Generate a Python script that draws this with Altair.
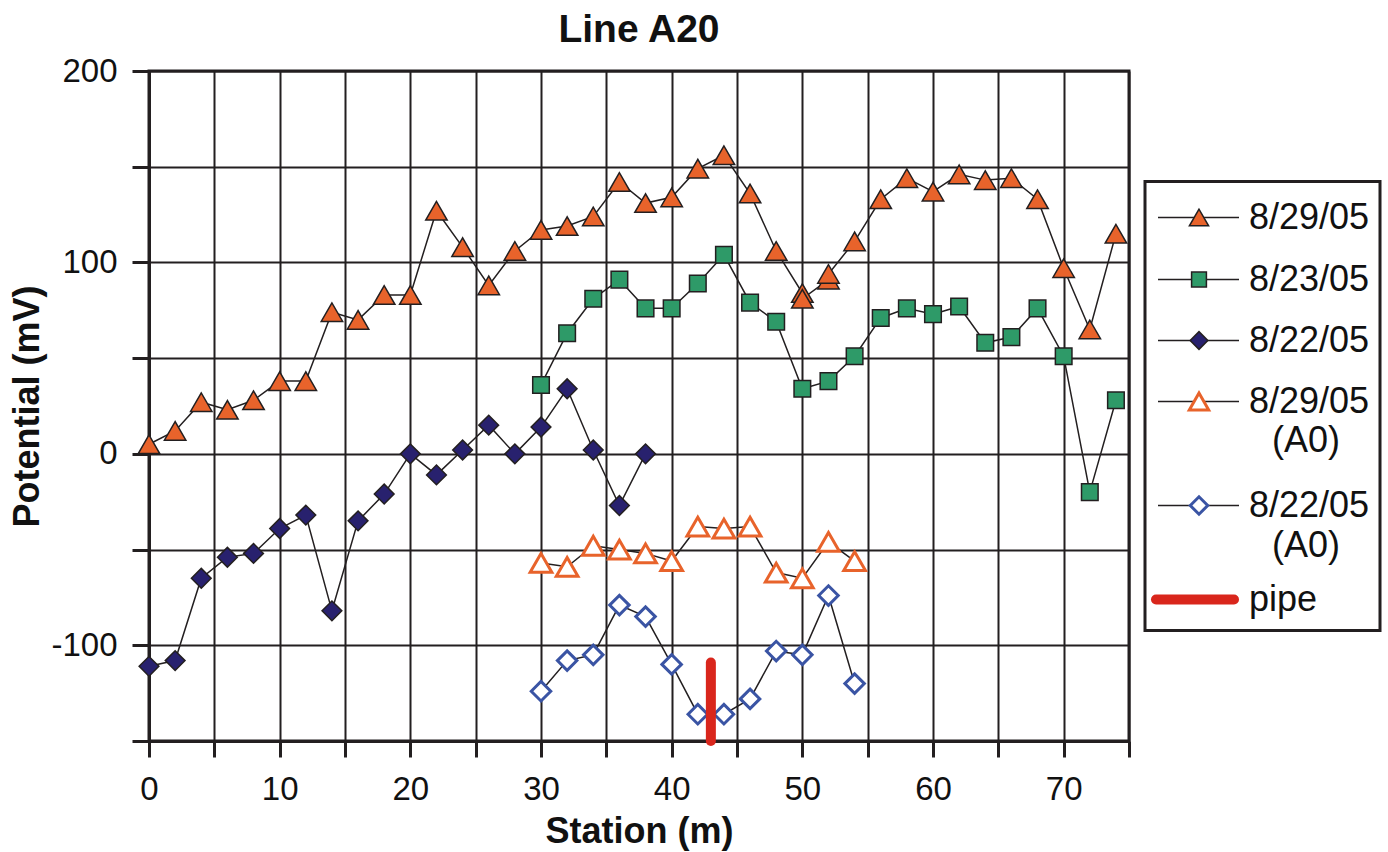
import altair as alt
import pandas as pd

# ---------------- data ----------------
st_829 = [0, 2, 4, 6, 8, 10, 12, 14, 16, 18, 20, 22, 24, 26, 28, 30, 32, 34, 36, 38,
          40, 42, 44, 46, 48, 50, 50, 52, 52, 54, 56, 58, 60, 62, 64, 66, 68, 70, 72, 74]
v_829 = [5, 12, 27, 23, 28, 38, 38, 74, 70, 83, 83, 127, 108, 88, 106, 117, 119, 124, 142, 131,
         134, 149, 156, 136, 106, 84, 81, 91, 94, 111, 133, 144, 137, 146, 143, 144, 133, 97, 65, 115]

st_823 = [30, 32, 34, 36, 38, 40, 42, 44, 46, 48, 50, 52, 54, 56, 58, 60, 62, 64, 66, 68, 70, 72, 74]
v_823 = [36, 63, 81, 91, 76, 76, 89, 104, 79, 69, 34, 38, 51, 71, 76, 73, 77, 58, 61, 76, 51, -20, 28]

st_822 = [0, 2, 4, 6, 8, 10, 12, 14, 16, 18, 20, 22, 24, 26, 28, 30, 32, 34, 36, 38]
v_822 = [-111, -108, -65, -54, -52, -39, -32, -82, -35, -21, 0, -11, 2, 15, 0, 14, 34, 2, -27, 0]

st_829a = [30, 32, 34, 36, 38, 40, 42, 44, 46, 48, 50, 52, 54]
v_829a = [-57, -59, -48, -50, -52, -56, -38, -39, -38, -62, -65, -46, -56]

st_822a = [30, 32, 34, 36, 38, 40, 42, 44, 46, 48, 50, 52, 54]
v_822a = [-124, -108, -105, -79, -85, -110, -136, -136, -128, -103, -105, -74, -120]

pipe_station = [43]
pipe_top = [-109]
pipe_bottom = [-150]

series_names = ["8/29/05", "8/23/05", "8/22/05", "8/29/05 (A0)", "8/22/05 (A0)"]
legend_main = ["8/29/05", "8/23/05", "8/22/05", "8/29/05", "8/22/05"]
legend_sub = ["", "", "", "(A0)", "(A0)"]
pipe_label = ["pipe"]

# ---------------- styles ----------------
DARK = "#231f20"
ORANGE = "#e8632b"
GREEN = "#2e9a68"
NAVY = "#28216e"
BLUE = "#3a54a4"
RED = "#d9261c"
TXT = "#111111"
FONT = "Liberation Sans"

marker_styles = [
    dict(shape="triangle-up", fill=ORANGE, stroke=DARK, strokeWidth=1.5, size=460),
    dict(shape="square", fill=GREEN, stroke=DARK, strokeWidth=1.5, size=275),
    dict(shape="diamond", fill=NAVY, stroke=DARK, strokeWidth=1.5, size=390),
    dict(shape="triangle-up", fill="white", stroke=ORANGE, strokeWidth=3, size=470),
    dict(shape="diamond", fill="white", stroke=BLUE, strokeWidth=3, size=380),
]

rows = []
for name, st, vals in zip(series_names, [st_829, st_823, st_822, st_829a, st_822a],
                          [v_829, v_823, v_822, v_829a, v_822a]):
    for i, (s, v) in enumerate(zip(st, vals)):
        rows.append({"series": name, "station": s, "value": v, "idx": i})
df = pd.DataFrame(rows)
pipe_df = pd.DataFrame({"station": pipe_station, "top": pipe_top, "bottom": pipe_bottom})

x_axis = alt.Axis(
    values=list(range(0, 80, 5)),
    labelExpr="datum.value % 10 == 0 ? '' + datum.value : ''",
    grid=True, gridColor=DARK, gridWidth=2, gridOpacity=1,
    domainColor=DARK, domainWidth=3, tickColor=DARK, tickWidth=3, tickSize=16,
    labelFont=FONT, labelFontSize=33, labelColor=TXT, labelPadding=16,
    labelFlush=False, labelOverlap=False,
    titleFont=FONT, titleFontSize=36, titleFontWeight="bold", titleColor=TXT,
    titlePadding=8,
)
y_axis = alt.Axis(
    values=list(range(-150, 201, 50)),
    labelExpr="datum.value % 100 == 0 ? '' + datum.value : ''",
    grid=True, gridColor=DARK, gridWidth=2, gridOpacity=1,
    domainColor=DARK, domainWidth=3, tickColor=DARK, tickWidth=3, tickSize=17,
    labelFont=FONT, labelFontSize=33, labelColor=TXT, labelPadding=15,
    labelFlush=False, labelOverlap=False,
    titleFont=FONT, titleFontSize=36, titleFontWeight="bold", titleColor=TXT,
    titlePadding=4,
)
x_scale = alt.Scale(domain=[0, 75], nice=False, zero=False)
y_scale = alt.Scale(domain=[-150, 200], nice=False, zero=False)


def X(field):
    return alt.X(f"{field}:Q", scale=x_scale, axis=x_axis, title="Station (m)")


def Y(field):
    return alt.Y(f"{field}:Q", scale=y_scale, axis=y_axis, title="Potential (mV)")


base = alt.Chart(df)
lines = base.mark_line(color=DARK, strokeWidth=1.5).encode(
    x=X("station"), y=Y("value"), detail="series:N", order="idx:Q"
)
point_layers = []
for name, style in zip(series_names, marker_styles):
    point_layers.append(
        base.transform_filter(alt.datum.series == name)
        .mark_point(filled=True, opacity=1, fillOpacity=1, **style)
        .encode(x=X("station"), y=Y("value"))
    )
pipe = alt.Chart(pipe_df).mark_rule(color=RED, strokeWidth=10, strokeCap="round").encode(
    x=X("station"), y=Y("top"), y2="bottom:Q"
)

main = alt.layer(lines, *point_layers, pipe).properties(
    width=980, height=670,
    view=alt.ViewBackground(stroke=DARK, strokeWidth=3),
    title=alt.TitleParams("Line A20", font=FONT, fontSize=39, fontWeight="bold",
                          color=TXT, anchor="middle", offset=5),
)

# ---------------- legend panel ----------------
leg_y = [36, 98, 159, 220, 324]
leg_sub_y = [36, 98, 159, 259, 364]
pipe_leg_y = [418]
leg_df = pd.DataFrame({
    "series": series_names, "label": legend_main, "sub": legend_sub,
    "ly": leg_y, "ly2": leg_sub_y,
    "lx0": [13] * 5, "lx1": [94] * 5, "mx": [54] * 5, "tx": [104] * 5, "tx2": [127] * 5,
})
pipe_leg_df = pd.DataFrame({"label": pipe_label, "ly": pipe_leg_y, "lx0": [11], "lx1": [89], "tx": [104]})

lx = alt.Scale(domain=[0, 235], nice=False, zero=False)
ly = alt.Scale(domain=[0, 449], nice=False, zero=False, reverse=True)

lbase = alt.Chart(leg_df)
leg_lines = lbase.mark_rule(color=DARK, strokeWidth=1.5).encode(
    x=alt.X("lx0:Q", scale=lx, axis=None), x2="lx1:Q",
    y=alt.Y("ly:Q", scale=ly, axis=None),
)
leg_pts = []
for name, style in zip(series_names, marker_styles):
    st = dict(style)
    st["size"] = int(style["size"] * 0.8)
    leg_pts.append(
        lbase.transform_filter(alt.datum.series == name)
        .mark_point(filled=True, opacity=1, fillOpacity=1, **st)
        .encode(x=alt.X("mx:Q", scale=lx, axis=None), y=alt.Y("ly:Q", scale=ly, axis=None))
    )
leg_txt = lbase.mark_text(align="left", baseline="middle", font=FONT, fontSize=36, color=TXT).encode(
    x=alt.X("tx:Q", scale=lx, axis=None), y=alt.Y("ly:Q", scale=ly, axis=None), text="label:N"
)
leg_sub = lbase.mark_text(align="left", baseline="middle", font=FONT, fontSize=36, color=TXT).encode(
    x=alt.X("tx2:Q", scale=lx, axis=None), y=alt.Y("ly2:Q", scale=ly, axis=None), text="sub:N"
)
pbase = alt.Chart(pipe_leg_df)
leg_pipe = pbase.mark_rule(color=RED, strokeWidth=10, strokeCap="round").encode(
    x=alt.X("lx0:Q", scale=lx, axis=None), x2="lx1:Q",
    y=alt.Y("ly:Q", scale=ly, axis=None),
)
leg_pipe_txt = pbase.mark_text(align="left", baseline="middle", font=FONT, fontSize=36, color=TXT).encode(
    x=alt.X("tx:Q", scale=lx, axis=None), y=alt.Y("ly:Q", scale=ly, axis=None), text="label:N"
)

legend = alt.layer(leg_lines, *leg_pts, leg_txt, leg_sub, leg_pipe, leg_pipe_txt).properties(
    width=235, height=449,
    view=alt.ViewBackground(stroke=DARK, strokeWidth=3),
)

chart = alt.hconcat(main, legend, spacing=16, bounds="flush", center=True).properties(
    padding={"left": 8, "top": 9, "right": 5, "bottom": 5},
    background="white",
)

chart.save("out.html", embed_options={"renderer": "svg", "actions": False})
